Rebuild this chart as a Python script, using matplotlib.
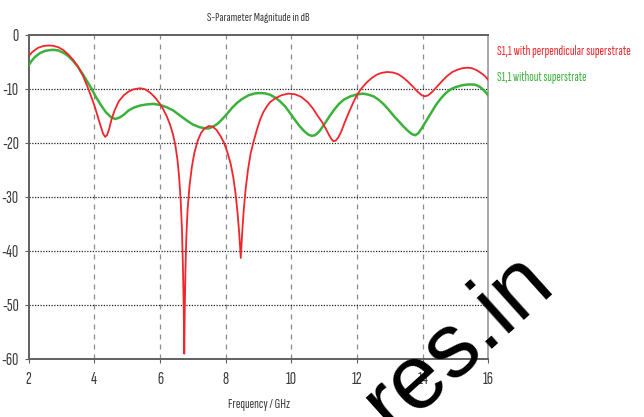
import matplotlib
matplotlib.use("Agg")
import matplotlib.pyplot as plt

# ---- data ----
freq_red = [2.0, 2.1, 2.2, 2.3, 2.45, 2.6, 2.75, 2.9, 3.05, 3.2, 3.35, 3.5, 3.65, 3.82, 4.0,
            4.1, 4.2, 4.27, 4.33, 4.39, 4.45, 4.53, 4.62, 4.75, 4.9, 5.05, 5.2, 5.4, 5.55,
            5.7, 5.85, 6.0, 6.1, 6.2, 6.3, 6.4, 6.47, 6.53, 6.58, 6.63, 6.67, 6.7, 6.725,
            6.74, 6.755, 6.775, 6.8, 6.84, 6.9, 6.97, 7.05, 7.15, 7.25, 7.35, 7.48, 7.6,
            7.72, 7.85, 7.95, 8.05, 8.15, 8.23, 8.3, 8.36, 8.41, 8.46, 8.5, 8.55, 8.61, 8.68,
            8.76, 8.85, 8.95, 9.05, 9.15, 9.25, 9.35, 9.5, 9.7, 9.9, 10.1, 10.3, 10.5, 10.65,
            10.8, 10.95, 11.05, 11.15, 11.22, 11.28, 11.35, 11.43, 11.52, 11.62, 11.75, 11.88,
            12.0, 12.14, 12.3, 12.45, 12.6, 12.75, 12.92, 13.1, 13.25, 13.4, 13.55, 13.7,
            13.85, 13.97, 14.07, 14.17, 14.3, 14.45, 14.6, 14.75, 14.9, 15.05, 15.2, 15.36,
            15.5, 15.65, 15.8, 15.9, 16.0]
s11_with = [-4.0, -3.3, -2.8, -2.4, -2.1, -2.0, -2.05, -2.3, -2.8, -3.6, -4.6, -5.9, -7.5,
            -10.0, -13.0, -15.0, -17.0, -18.3, -18.9, -18.6, -17.5, -15.6, -14.0, -12.3,
            -11.2, -10.5, -10.1, -9.9, -10.1, -10.7, -11.6, -12.8, -13.8, -15.0, -16.5, -18.5,
            -20.5, -23.0, -26.0, -30.5, -36.0, -43.0, -51.0, -59.0, -51.0, -44.0, -38.0,
            -32.5, -28.0, -24.5, -21.8, -19.6, -18.2, -17.4, -16.9, -17.0, -17.6, -18.8,
            -20.0, -21.7, -23.8, -26.3, -29.3, -32.8, -36.5, -41.3, -37.0, -32.5, -28.5,
            -25.0, -22.0, -19.8, -17.6, -15.7, -14.3, -13.3, -12.5, -11.8, -11.2, -10.9,
            -11.0, -11.5, -12.5, -13.6, -15.0, -16.3, -17.4, -18.6, -19.3, -19.7, -19.6,
            -19.0, -17.9, -16.3, -14.4, -12.6, -11.1, -9.9, -8.8, -8.0, -7.4, -7.05, -6.9,
            -7.0, -7.3, -7.9, -8.7, -9.6, -10.6, -11.2, -11.4, -11.2, -10.5, -9.5, -8.5,
            -7.6, -6.9, -6.5, -6.2, -6.1, -6.2, -6.6, -7.2, -7.7, -8.4]

freq_green = [2.0, 2.1, 2.2, 2.35, 2.5, 2.65, 2.75, 2.9, 3.05, 3.2, 3.35, 3.5, 3.65, 3.8,
              3.92, 4.05, 4.2, 4.35, 4.5, 4.64, 4.78, 4.9, 5.05, 5.2, 5.4, 5.6, 5.8, 6.0,
              6.2, 6.4, 6.6, 6.8, 7.0, 7.2, 7.35, 7.48, 7.62, 7.75, 7.9, 8.05, 8.2, 8.35,
              8.5, 8.7, 8.9, 9.05, 9.2, 9.35, 9.5, 9.65, 9.8, 9.95, 10.1, 10.25, 10.4, 10.52,
              10.62, 10.72, 10.85, 11.0, 11.15, 11.3, 11.45, 11.6, 11.8, 12.0, 12.18, 12.35,
              12.5, 12.65, 12.8, 12.95, 13.1, 13.25, 13.4, 13.55, 13.67, 13.77, 13.87, 14.0,
              14.12, 14.25, 14.4, 14.55, 14.7, 14.85, 15.0, 15.2, 15.4, 15.6, 15.75, 15.88,
              16.0]
s11_without = [-5.7, -4.8, -4.1, -3.4, -3.0, -2.85, -2.8, -2.9, -3.3, -3.9, -4.8, -5.9, -7.3,
               -8.8, -10.0, -11.5, -13.0, -14.3, -15.2, -15.6, -15.3, -14.8, -14.0, -13.5,
               -13.1, -12.9, -12.8, -13.0, -13.4, -14.0, -14.9, -15.8, -16.6, -17.1, -17.3,
               -17.35, -17.0, -16.5, -15.6, -14.6, -13.5, -12.6, -11.9, -11.2, -10.85, -10.8,
               -10.85, -11.1, -11.6, -12.3, -13.2, -14.4, -15.7, -16.9, -17.9, -18.5, -18.7,
               -18.6, -17.9, -16.6, -15.2, -13.9, -12.8, -12.0, -11.4, -11.05, -10.9, -11.1,
               -11.4, -12.0, -12.8, -13.8, -14.9, -15.9, -16.9, -17.8, -18.4, -18.6, -18.2,
               -17.0, -15.8, -14.5, -13.0, -11.8, -10.8, -10.1, -9.7, -9.35, -9.2, -9.25,
               -9.7, -10.4, -11.3]

x_ticks = [2, 4, 6, 8, 10, 12, 14, 16]
y_ticks = [0, -10, -20, -30, -40, -50, -60]
label_with = "S1,1 with perpendicular superstrate"
label_without = "S1,1 without superstrate"

# ---- font ----
FAM = ['Sofia Sans Extra Condensed', 'Fira Sans Extra Condensed', 'DejaVu Sans']
plt.rcParams['font.family'] = FAM

RED = "#f0262c"
GREEN = "#3cb23c"
TXT = "#3a3a3a"

fig = plt.figure(figsize=(6.44, 4.17), dpi=100)
ax = fig.add_axes([0.0443, 0.139, 0.7142, 0.7778])

ax.plot(freq_green, s11_without, color=GREEN, lw=1.8, solid_capstyle='round', zorder=3)
ax.plot(freq_red, s11_with, color=RED, lw=1.3, solid_capstyle='round', zorder=4)

ax.set_xlim(2, 16)
ax.set_ylim(-60, 0)
ax.set_xticks(x_ticks)
ax.set_yticks(y_ticks)
ax.set_xticklabels([str(v) for v in x_ticks])
ax.set_yticklabels([str(v) for v in y_ticks])

for v in x_ticks[1:-1]:
    ax.axvline(v, color="#8c8c8c", lw=0.9, ls=(0, (4, 4)), zorder=1)
for v in y_ticks[1:-1]:
    ax.axhline(v, color="#202020", lw=0.9, ls=(0, (1, 1.2)), zorder=1)

for s in ['left', 'bottom', 'top']:
    ax.spines[s].set_color("#606060")
    ax.spines[s].set_linewidth(1.4)
ax.spines['right'].set_color("#9a9a9a")
ax.spines['right'].set_linewidth(1.2)

ax.tick_params(axis='both', length=3, width=0.8, color="#606060", labelsize=12.5,
               labelcolor=TXT)
ax.tick_params(axis='x', pad=6)
ax.tick_params(axis='y', pad=4)

title = ax.set_title("S-Parameter Magnitude in dB", fontsize=11, color=TXT, pad=10)
xlab = ax.set_xlabel("Frequency / GHz", fontsize=11, color=TXT, labelpad=8)

t1 = fig.text(497 / 644, 1 - 52 / 417, label_with, color=RED, fontsize=12, va='center', ha='left')
t2 = fig.text(497 / 644, 1 - 77 / 417, label_without, color=GREEN, fontsize=12, va='center', ha='left')

# fit text widths to the reference widths (pixels)
fig.canvas.draw()
r = fig.canvas.get_renderer()
for t, w in [(t1, 134), (t2, 90), (title, 102), (xlab, 62)]:
    cur = t.get_window_extent(r).width
    t.set_fontsize(min(12.5, t.get_fontsize() * w / cur))

# watermark
fig.text(392 / 644, 1 - 433 / 417, "res.in", family=['Liberation Sans', 'DejaVu Sans'],
         fontsize=65, color="black", rotation=42, rotation_mode='anchor',
         ha='left', va='baseline', zorder=10)

fig.savefig("out.png", dpi=100, facecolor="white")
